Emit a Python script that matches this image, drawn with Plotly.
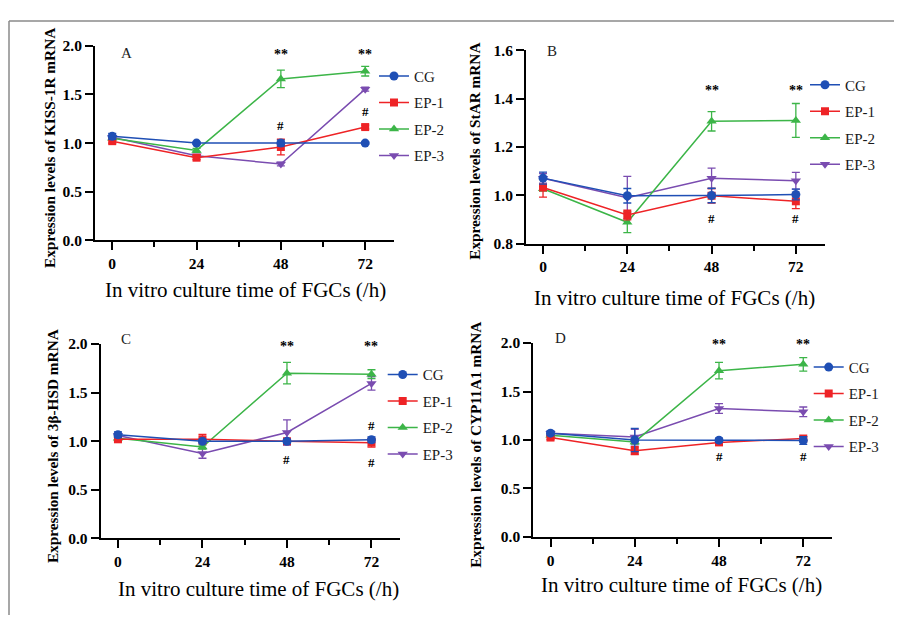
import plotly.graph_objects as go

OFF = 8  # page body margin
W, H = 894, 615

times = [0, 24, 48, 72]
groups = ["CG", "EP-1", "EP-2", "EP-3"]
colors = ["#1f4fb5", "#ee2326", "#3cb548", "#7a4cb0"]
symbols = ["circle", "square", "triangle-up", "triangle-down"]

# Panel A: KISS-1R
a_cg = [1.07, 1.00, 1.00, 1.00]
a_cg_sd = [0.03, 0.01, 0.03, 0.01]
a_ep1 = [1.02, 0.85, 0.96, 1.165]
a_ep1_sd = [0.02, 0.02, 0.08, 0.02]
a_ep2 = [1.05, 0.925, 1.66, 1.74]
a_ep2_sd = [0.02, 0.02, 0.09, 0.05]
a_ep3 = [1.06, 0.87, 0.785, 1.555]
a_ep3_sd = [0.02, 0.01, 0.02, 0.02]

# Panel B: StAR
b_cg = [1.071, 0.998, 0.999, 1.003]
b_cg_sd = [0.025, 0.03, 0.03, 0.022]
b_ep1 = [1.032, 0.918, 0.998, 0.975]
b_ep1_sd = [0.04, 0.02, 0.03, 0.03]
b_ep2 = [1.027, 0.888, 1.306, 1.31]
b_ep2_sd = [0.01, 0.043, 0.04, 0.07]
b_ep3 = [1.07, 0.99, 1.07, 1.06]
b_ep3_sd = [0.02, 0.088, 0.042, 0.035]

# Panel C: 3β-HSD
c_cg = [1.067, 1.00, 1.00, 1.015]
c_cg_sd = [0.03, 0.02, 0.02, 0.03]
c_ep1 = [1.02, 1.02, 1.00, 0.985]
c_ep1_sd = [0.02, 0.05, 0.02, 0.045]
c_ep2 = [1.03, 0.94, 1.70, 1.69]
c_ep2_sd = [0.02, 0.02, 0.11, 0.045]
c_ep3 = [1.06, 0.875, 1.09, 1.595]
c_ep3_sd = [0.02, 0.05, 0.13, 0.07]

# Panel D: CYP11A1
d_cg = [1.07, 1.00, 0.998, 0.995]
d_cg_sd = [0.02, 0.12, 0.02, 0.04]
d_ep1 = [1.025, 0.89, 0.975, 1.015]
d_ep1_sd = [0.02, 0.04, 0.02, 0.02]
d_ep2 = [1.05, 0.98, 1.715, 1.78]
d_ep2_sd = [0.02, 0.02, 0.085, 0.07]
d_ep3 = [1.07, 1.03, 1.325, 1.29]
d_ep3_sd = [0.02, 0.08, 0.05, 0.05]

y_ticks_ab = [0.0, 0.5, 1.0, 1.5, 2.0]
y_ticks_b = [0.8, 1.0, 1.2, 1.4, 1.6]

y_titles = ["Expression levels of KISS-1R mRNA", "Expression levels of StAR mRNA",
            "Expression levels of 3β-HSD mRNA", "Expression levels of CYP11A1 mRNA"]
panel_labels = ["A", "B", "C", "D"]
x_title = "In vitro culture time of FGCs (/h)"

# significance marks: (x, y, text)
a_marks = [(48, 1.91, "**"), (72, 1.91, "**"), (48, 1.18, "#"), (72, 1.32, "#")]
b_marks = [(48, 1.432, "**"), (72, 1.432, "**"), (48, 0.905, "#"), (72, 0.905, "#")]
c_marks = [(48, 1.97, "**"), (72, 1.97, "**"), (48, 0.817, "#"), (72, 1.157, "#"), (72, 0.783, "#")]
d_marks = [(48, 1.983, "**"), (72, 1.983, "**"), (48, 0.83, "#"), (72, 0.83, "#")]

panels = [
    dict(data=[(a_cg, a_cg_sd), (a_ep1, a_ep1_sd), (a_ep2, a_ep2_sd), (a_ep3, a_ep3_sd)],
         marks=a_marks, yr=[0, 2.0], yt=y_ticks_ab,
         px=(95, 394), py=(37.7, 237.7), xr=[-4.9, 80.2],
         ytx=50, xtx=245, xty=289, lab=(126, 45), leg=(393, 74)),
    dict(data=[(b_cg, b_cg_sd), (b_ep1, b_ep1_sd), (b_ep2, b_ep2_sd), (b_ep3, b_ep3_sd)],
         marks=b_marks, yr=[0.8, 1.6], yt=y_ticks_b,
         px=(526, 825), py=(42.3, 241), xr=[-4.85, 80.3],
         ytx=475, xty=297, xtx=674, lab=(552, 43), leg=(824, 83)),
    dict(data=[(c_cg, c_cg_sd), (c_ep1, c_ep1_sd), (c_ep2, c_ep2_sd), (c_ep3, c_ep3_sd)],
         marks=c_marks, yr=[0, 2.0], yt=y_ticks_ab,
         px=(100.7, 400), py=(344.3, 544.3), xr=[-4.9, 80.1],
         ytx=52, xty=596.7, xtx=258, lab=(126, 339), leg=(401.7, 381)),
    dict(data=[(d_cg, d_cg_sd), (d_ep1, d_ep1_sd), (d_ep2, d_ep2_sd), (d_ep3, d_ep3_sd)],
         marks=d_marks, yr=[0, 2.0], yt=y_ticks_ab,
         px=(533.3, 831.7), py=(343.3, 542.7), xr=[-4.9, 80.1],
         ytx=476, xty=591.7, xtx=681, lab=(560, 338), leg=(827.7, 373.3)),
]


def fx(px):
    return (px - OFF) / W


def fy(py):
    return 1 - (py - OFF) / H


SERIF = "Liberation Serif"
fig = go.Figure()
annotations = []
layout = {}

for i, p in enumerate(panels):
    k = "" if i == 0 else str(i + 1)
    legname = "legend" + k
    for j in [3, 2, 1, 0]:
        vals, sd = p["data"][j]
        fig.add_trace(go.Scatter(
            x=times, y=vals, mode="lines+markers", name=groups[j],
            xaxis="x" + k, yaxis="y" + k, legend=legname, legendrank=j + 1,
            legendgroup=f"{i}-{j}",
            line=dict(color=colors[j], width=1.5),
            marker=dict(color=colors[j], symbol=symbols[j], size=9 if j != 1 else 8),
            error_y=dict(type="data", array=sd, visible=True, color=colors[j], thickness=1.3, width=4),
            cliponaxis=False,
        ))
    x0, x1 = p["px"]
    y0, y1 = p["py"]
    layout["xaxis" + k] = dict(
        domain=[fx(x0), fx(x1)], range=p["xr"], anchor="y" + k,
        tickmode="array", tickvals=times, ticktext=[str(t) for t in times],
        ticks="outside", ticklen=8, tickwidth=2,
        tickcolor="black", showline=True, linewidth=2, linecolor="black",
        showgrid=False, zeroline=False,
        minor=dict(tickvals=[12, 36, 60], ticks="outside", ticklen=5, tickwidth=2, tickcolor="black"),
        tickfont=dict(family=SERIF, size=15.5, color="black", weight="bold"),
    )
    layout["yaxis" + k] = dict(
        domain=[fy(y1), fy(y0)], range=p["yr"], anchor="x" + k,
        tickmode="array", tickvals=p["yt"], ticktext=[f"{v:.1f}" for v in p["yt"]],
        ticks="outside", ticklen=8, tickwidth=2,
        tickcolor="black", showline=True, linewidth=2, linecolor="black",
        showgrid=False, zeroline=False,
        tickfont=dict(family=SERIF, size=15.5, color="black", weight="bold"),
    )
    lx, ly = p["leg"]
    layout[legname] = dict(
        x=fx(lx - 19), y=fy(ly - 22), xanchor="left", yanchor="top",
        font=dict(family=SERIF, size=15, color="#1a1a1a"), bgcolor="rgba(0,0,0,0)",
        itemwidth=30, traceorder="grouped", tracegroupgap=4,
    )
    annotations.append(dict(
        text=y_titles[i], x=fx(p["ytx"]), y=fy((y0 + y1) / 2 + 5), xref="paper", yref="paper",
        textangle=-90, showarrow=False, xanchor="center", yanchor="middle",
        font=dict(family=SERIF, size=15.3, color="black", weight="bold"),
    ))
    annotations.append(dict(
        text=x_title, x=fx(p["xtx"]), y=fy(p["xty"]), xref="paper", yref="paper",
        showarrow=False, xanchor="center", yanchor="middle",
        font=dict(family=SERIF, size=21, color="black"),
    ))
    lbx, lby = p["lab"]
    annotations.append(dict(
        text=panel_labels[i], x=fx(lbx), y=fy(lby), xref="paper", yref="paper",
        showarrow=False, xanchor="center", yanchor="middle",
        font=dict(family=SERIF, size=15, color="#222"),
    ))
    for (mx, my, mt) in p["marks"]:
        annotations.append(dict(
            text=mt, x=mx, y=my, xref="x" + k, yref="y" + k, showarrow=False,
            xanchor="center", yanchor="middle",
            font=dict(family=SERIF, size=14 if mt == "**" else 13, color="black", weight="bold"),
        ))

shapes = [
    dict(type="line", xref="paper", yref="paper", x0=fx(9), x1=1, y0=fy(12), y1=fy(12),
         line=dict(color="#8a8a8a", width=1.5)),
    dict(type="line", xref="paper", yref="paper", x0=fx(9), x1=fx(9), y0=fy(12), y1=0,
         line=dict(color="#8a8a8a", width=1.5)),
]

fig.update_layout(
    width=W, height=H, margin=dict(l=0, r=0, t=0, b=0),
    paper_bgcolor="white", plot_bgcolor="white",
    annotations=annotations, shapes=shapes, showlegend=True,
    **layout,
)

fig.write_html("out.html")
